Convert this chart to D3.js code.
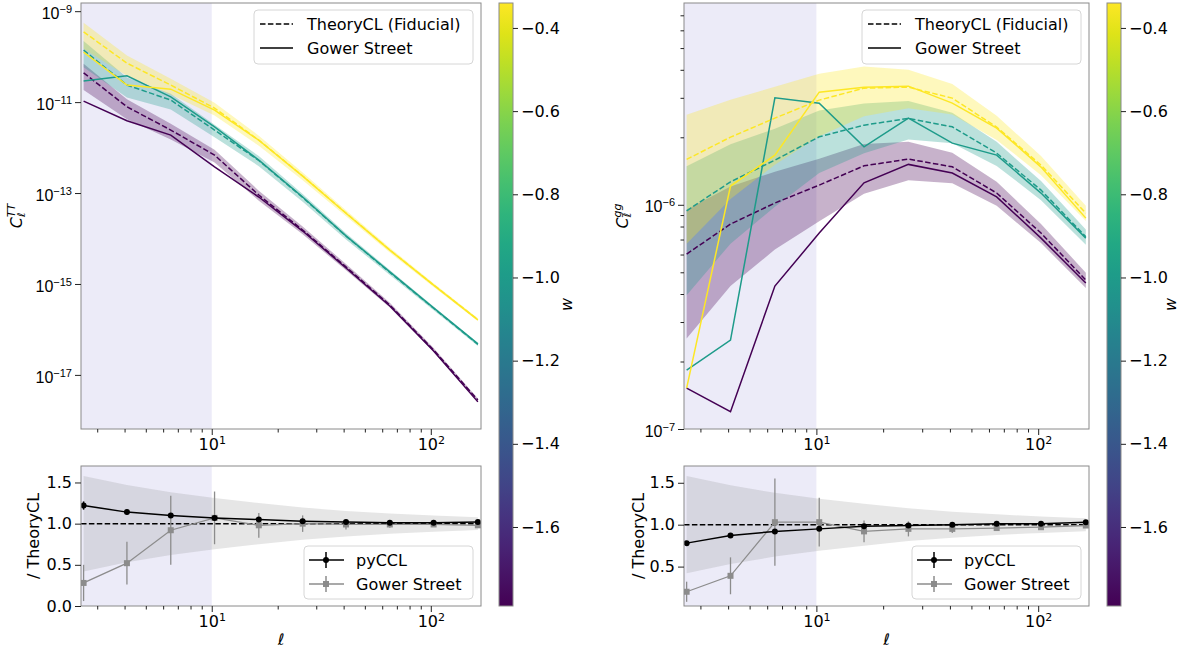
<!DOCTYPE html>
<html><head><meta charset="utf-8">
<script src="https://cdn.jsdelivr.net/npm/d3@7"></script>
<style>body{margin:0;background:#fff}svg{display:block;font-family:"DejaVu Sans",sans-serif}</style>
</head><body><svg id="c" width="1200" height="652"></svg>
<script>
// ---------------- data ----------------
const ell = [2.6, 4.1, 6.5, 10.3, 16.4, 26, 41, 65, 103, 164];
const wValues = [-1.79, -1.0, -0.34];
const wRange = [-1.79, -0.34];
const cbTicks = [-0.4, -0.6, -0.8, -1.0, -1.2, -1.4, -1.6];
const cvSigma = [0.58, 0.47, 0.38, 0.31, 0.25, 0.195, 0.155, 0.123, 0.098, 0.078];

// C_ell^TT
const ttTheoryWm179 = [4.41e-11, 7.89e-12, 2.43e-12, 6.84e-13, 9.04e-14, 1.54e-14, 2.37e-15, 3.45e-16, 3.54e-17, 2.80e-18];
const ttGowerWm179  = [1.05e-11, 3.88e-12, 1.88e-12, 3.78e-13, 8.17e-14, 1.46e-14, 2.25e-15, 3.28e-16, 3.37e-17, 2.55e-18];
const ttTheoryWm100 = [1.39e-10, 2.37e-11, 1.11e-11, 2.43e-12, 5.2e-13, 8.0e-14, 1.13e-14, 1.80e-15, 2.92e-16, 4.70e-17];
const ttGowerWm100  = [2.90e-11, 3.78e-11, 1.31e-11, 2.86e-12, 5.31e-13, 8.17e-14, 1.14e-14, 1.84e-15, 2.97e-16, 4.80e-17];
const ttTheoryWm034 = [3.51e-10, 7.19e-11, 2.37e-11, 7.38e-12, 1.46e-12, 2.37e-13, 3.63e-14, 5.58e-15, 9.50e-16, 1.64e-16];
const ttGowerWm034  = [1.26e-10, 2.37e-11, 1.93e-11, 6.67e-12, 1.45e-12, 2.35e-13, 3.60e-14, 5.55e-15, 9.45e-16, 1.62e-16];

// C_ell^gg
const ggTheoryWm179 = [6.03e-7, 8.20e-7, 1.018e-6, 1.224e-6, 1.492e-6, 1.599e-6, 1.477e-6, 1.128e-6, 7.48e-7, 4.62e-7];
const ggGowerWm179  = [1.523e-7, 1.194e-7, 4.34e-7, 7.48e-7, 1.253e-6, 1.514e-6, 1.385e-6, 1.085e-6, 7.10e-7, 4.48e-7];
const ggTheoryWm100 = [9.40e-7, 1.266e-6, 1.582e-6, 2.01e-6, 2.266e-6, 2.428e-6, 2.227e-6, 1.70e-6, 1.163e-6, 7.20e-7];
const ggGowerWm100  = [1.832e-7, 2.493e-7, 3.0e-6, 2.84e-6, 1.814e-6, 2.435e-6, 1.884e-6, 1.665e-6, 1.128e-6, 7.10e-7];
const ggTheoryWm034 = [1.594e-6, 2.003e-6, 2.435e-6, 2.93e-6, 3.313e-6, 3.347e-6, 2.99e-6, 2.22e-6, 1.503e-6, 9.18e-7];
const ggGowerWm034  = [1.523e-7, 1.212e-6, 1.665e-6, 3.18e-6, 3.347e-6, 3.382e-6, 2.84e-6, 2.197e-6, 1.473e-6, 8.72e-7];

// ratios / TheoryCL
const ttRatioPyccl    = [1.22, 1.14, 1.10, 1.07, 1.05, 1.03, 1.02, 1.01, 1.01, 1.02];
const ttRatioPycclErr = [0.05, 0.03, 0.02, 0.02, 0.015, 0.01, 0.01, 0.01, 0.01, 0.01];
const ttRatioGower    = [0.28, 0.52, 0.92, 1.07, 0.98, 1.00, 0.99, 0.99, 0.99, 0.98];
const ttRatioGowerErr = [0.22, 0.26, 0.42, 0.32, 0.15, 0.10, 0.06, 0.04, 0.03, 0.02];
const ggRatioPyccl    = [0.78, 0.87, 0.92, 0.95, 0.98, 0.99, 1.00, 1.01, 1.01, 1.03];
const ggRatioPycclErr = [0.01, 0.01, 0.01, 0.01, 0.01, 0.01, 0.01, 0.01, 0.01, 0.01];
const ggRatioGower    = [0.20, 0.39, 1.03, 1.03, 0.92, 0.95, 0.95, 0.96, 0.97, 0.99];
const ggRatioGowerErr = [0.12, 0.22, 0.52, 0.29, 0.13, 0.09, 0.05, 0.03, 0.03, 0.02];

const xMajor = [10, 100];
const xMinor = [3,4,5,6,7,8,9,20,30,40,50,60,70,80,90];

// ---------------- drawing ----------------
const svg = d3.select("#c");
const color = d3.scaleSequential(d3.interpolateViridis).domain(wRange);
const SHADE = "#ecebf8", SPINE = "#8a8a8a", TICK = "#222", FS = 16;
const xDomain = [2.53, 169.5];
const defs = svg.append("defs");
let clipId = 0;

function expLabel(sel, expOf) {
  sel.each(function(d) {
    const t = d3.select(this); t.text(null);
    t.append("tspan").text("10");
    t.append("tspan").attr("dy", "-0.55em").attr("font-size", 11).text(expOf(d));
  });
}
function sup(n) { return n < 0 ? "\u2212" + Math.abs(n) : String(n); }

function frame(g, x0, x1, yt, yb) {
  g.append("rect").attr("x", x0).attr("y", yt).attr("width", x1 - x0).attr("height", yb - yt)
    .attr("fill", "none").attr("stroke", SPINE).attr("stroke-width", 1);
}
function clip(x0, x1, yt, yb) {
  const id = "clip" + (clipId++);
  defs.append("clipPath").attr("id", id).append("rect").attr("x", x0).attr("y", yt).attr("width", x1 - x0).attr("height", yb - yt);
  return "url(#" + id + ")";
}
function xAxes(g, x, yb) {
  const a = g.append("g").attr("transform", `translate(0,${yb})`)
    .call(d3.axisBottom(x).tickValues(xMajor).tickSize(6).tickPadding(4).tickFormat(d => d));
  a.select(".domain").remove();
  a.selectAll("line").attr("stroke", TICK);
  a.selectAll("text").attr("font-size", FS).attr("fill", "#000").attr("font-family", "DejaVu Sans");
  expLabel(a.selectAll("text"), d => sup(Math.round(Math.log10(d))));
  const m = g.append("g").attr("transform", `translate(0,${yb})`)
    .call(d3.axisBottom(x).tickValues(xMinor).tickSize(3.5).tickFormat(""));
  m.select(".domain").remove();
  m.selectAll("line").attr("stroke", TICK);
}

function drawTop(cfg) {
  const x = d3.scaleLog().domain(xDomain).range([cfg.x0, cfg.x1]);
  const y = d3.scaleLog().domain(cfg.yDomain).range([cfg.yb, cfg.yt]);
  const g = svg.append("g");
  const cp = clip(cfg.x0, cfg.x1, cfg.yt, cfg.yb);
  const p = g.append("g").attr("clip-path", cp);
  p.append("rect").attr("x", cfg.x0).attr("y", cfg.yt).attr("width", x(10) - cfg.x0).attr("height", cfg.yb - cfg.yt).attr("fill", SHADE);
  cfg.series.forEach(s => {
    const c = color(s.w);
    const area = d3.area().x((d, i) => x(ell[i])).y0((d, i) => y(d * (1 - cvSigma[i]))).y1((d, i) => y(d * (1 + cvSigma[i])));
    p.append("path").attr("d", area(s.theory)).attr("fill", c).attr("fill-opacity", 0.3);
  });
  cfg.series.forEach(s => {
    const c = color(s.w);
    const line = d3.line().x((d, i) => x(ell[i])).y(d => y(d));
    p.append("path").attr("d", line(s.theory)).attr("fill", "none").attr("stroke", c).attr("stroke-width", 1.5).attr("stroke-dasharray", "5.5,2.4");
    p.append("path").attr("d", line(s.gower)).attr("fill", "none").attr("stroke", c).attr("stroke-width", 1.5);
  });
  frame(g, cfg.x0, cfg.x1, cfg.yt, cfg.yb);
  xAxes(g, x, cfg.yb);
  const ya = g.append("g").attr("transform", `translate(${cfg.x0},0)`)
    .call(d3.axisLeft(y).tickValues(cfg.yMajor).tickSize(6).tickPadding(3).tickFormat(d => d));
  ya.select(".domain").remove();
  ya.selectAll("line").attr("stroke", TICK);
  ya.selectAll("text").attr("font-size", FS).attr("fill", "#000").attr("dy", "0.45em");
  expLabel(ya.selectAll("text"), d => sup(Math.round(Math.log10(d))));
  if (cfg.yMinor) {
    const ym = g.append("g").attr("transform", `translate(${cfg.x0},0)`)
      .call(d3.axisLeft(y).tickValues(cfg.yMinor).tickSize(3.5).tickFormat(""));
    ym.select(".domain").remove();
    ym.selectAll("line").attr("stroke", TICK);
  }
  const yl = g.append("text").attr("transform", `translate(${cfg.ylabX},${(cfg.yt + cfg.yb) / 2}) rotate(-90)`)
    .attr("text-anchor", "middle").attr("font-size", FS);
  yl.append("tspan").attr("font-style", "italic").text("C");
  yl.append("tspan").attr("font-style", "italic").attr("font-size", 11).attr("dy", "0.3em").text("\u2113");
  yl.append("tspan").attr("font-style", "italic").attr("font-size", 11).attr("dx", "-0.42em").attr("dy", "-0.95em").text(cfg.sup);
  const lw = 219, lh = 54, lx = cfg.x1 - 8 - lw, ly = cfg.yt + 7;
  const lg = g.append("g");
  lg.append("rect").attr("x", lx).attr("y", ly).attr("width", lw).attr("height", lh).attr("rx", 4)
    .attr("fill", "#fff").attr("fill-opacity", 0.8).attr("stroke", "#d6d6d6");
  [["TheoryCL (Fiducial)", "5.5,2.4"], ["Gower Street", null]].forEach((e, i) => {
    const cy = ly + 14 + i * 24;
    lg.append("line").attr("x1", lx + 6).attr("x2", lx + 39).attr("y1", cy).attr("y2", cy)
      .attr("stroke", "#000").attr("stroke-width", 1.5).attr("stroke-dasharray", e[1]);
    lg.append("text").attr("x", lx + 53).attr("y", cy).attr("dy", "0.35em").attr("font-size", FS).text(e[0]);
  });
}

function drawBottom(cfg) {
  const x = d3.scaleLog().domain(xDomain).range([cfg.x0, cfg.x1]);
  const y = d3.scaleLinear().domain(cfg.yDomain).range([cfg.yb, cfg.yt]);
  const g = svg.append("g");
  const cp = clip(cfg.x0, cfg.x1, cfg.yt, cfg.yb);
  const p = g.append("g").attr("clip-path", cp);
  p.append("rect").attr("x", cfg.x0).attr("y", cfg.yt).attr("width", x(10) - cfg.x0).attr("height", cfg.yb - cfg.yt).attr("fill", SHADE);
  const band = d3.area().x((d, i) => x(ell[i])).y0(d => y(1 - d)).y1(d => y(1 + d));
  p.append("path").attr("d", band(cvSigma)).attr("fill", "#808080").attr("fill-opacity", 0.2);
  p.append("line").attr("x1", cfg.x0).attr("x2", cfg.x1).attr("y1", y(1)).attr("y2", y(1))
    .attr("stroke", "#000").attr("stroke-width", 1.5).attr("stroke-dasharray", "5.5,2.4");
  const line = d3.line().x((d, i) => x(ell[i])).y(d => y(d));
  const GR = "#8c8c8c";
  cfg.gower.forEach((d, i) => p.append("line").attr("x1", x(ell[i])).attr("x2", x(ell[i]))
    .attr("y1", y(d - cfg.gowerErr[i])).attr("y2", y(d + cfg.gowerErr[i])).attr("stroke", GR).attr("stroke-width", 1.3));
  p.append("path").attr("d", line(cfg.gower)).attr("fill", "none").attr("stroke", GR).attr("stroke-width", 1.3);
  cfg.gower.forEach((d, i) => p.append("rect").attr("x", x(ell[i]) - 3).attr("y", y(d) - 3).attr("width", 6).attr("height", 6).attr("fill", GR));
  cfg.pyccl.forEach((d, i) => p.append("line").attr("x1", x(ell[i])).attr("x2", x(ell[i]))
    .attr("y1", y(d - cfg.pycclErr[i])).attr("y2", y(d + cfg.pycclErr[i])).attr("stroke", "#000").attr("stroke-width", 1.5));
  p.append("path").attr("d", line(cfg.pyccl)).attr("fill", "none").attr("stroke", "#000").attr("stroke-width", 1.5);
  cfg.pyccl.forEach((d, i) => p.append("circle").attr("cx", x(ell[i])).attr("cy", y(d)).attr("r", 3).attr("fill", "#000"));

  frame(g, cfg.x0, cfg.x1, cfg.yt, cfg.yb);
  xAxes(g, x, cfg.yb);
  const ya = g.append("g").attr("transform", `translate(${cfg.x0},0)`)
    .call(d3.axisLeft(y).tickValues(cfg.yTicks).tickSize(6).tickPadding(3).tickFormat(d3.format(".1f")));
  ya.select(".domain").remove();
  ya.selectAll("line").attr("stroke", TICK);
  ya.selectAll("text").attr("font-size", FS).attr("fill", "#000").attr("font-family", "DejaVu Sans");
  g.append("text").attr("transform", `translate(${cfg.ylabX},${(cfg.yt + cfg.yb) / 2}) rotate(-90)`)
    .attr("text-anchor", "middle").attr("dy", "0.35em").attr("font-size", FS).text("/ TheoryCL");
  g.append("text").attr("x", (cfg.x0 + cfg.x1) / 2).attr("y", 645).attr("text-anchor", "middle")
    .attr("font-size", FS).attr("font-style", "italic").text("\u2113");
  const lw = 169, lh = 53, lx = cfg.x1 - 8 - lw, ly = cfg.yb - 7 - lh;
  const lg = g.append("g");
  lg.append("rect").attr("x", lx).attr("y", ly).attr("width", lw).attr("height", lh).attr("rx", 4)
    .attr("fill", "#fff").attr("fill-opacity", 0.8).attr("stroke", "#d6d6d6");
  [["pyCCL", "#000", "c"], ["Gower Street", GR, "s"]].forEach((e, i) => {
    const cy = ly + 14 + i * 24, cx = lx + 22;
    lg.append("line").attr("x1", lx + 5).attr("x2", lx + 40).attr("y1", cy).attr("y2", cy).attr("stroke", e[1]).attr("stroke-width", 1.5);
    lg.append("line").attr("x1", cx).attr("x2", cx).attr("y1", cy - 8).attr("y2", cy + 8).attr("stroke", e[1]).attr("stroke-width", 1.5);
    if (e[2] === "c") lg.append("circle").attr("cx", cx).attr("cy", cy).attr("r", 3).attr("fill", e[1]);
    else lg.append("rect").attr("x", cx - 3).attr("y", cy - 3).attr("width", 6).attr("height", 6).attr("fill", e[1]);
    lg.append("text").attr("x", lx + 52).attr("y", cy).attr("dy", "0.35em").attr("font-size", FS).text(e[0]);
  });
}

function drawColorbar(cfg) {
  const id = "grad" + cfg.x0;
  const gr = defs.append("linearGradient").attr("id", id).attr("x1", 0).attr("x2", 0).attr("y1", 1).attr("y2", 0);
  d3.range(0, 1.0001, 0.05).forEach(t => gr.append("stop").attr("offset", t).attr("stop-color", d3.interpolateViridis(t)));
  const y = d3.scaleLinear().domain(wRange).range([cfg.yb, cfg.yt]);
  const g = svg.append("g");
  g.append("rect").attr("x", cfg.x0).attr("y", cfg.yt).attr("width", cfg.x1 - cfg.x0).attr("height", cfg.yb - cfg.yt)
    .attr("fill", `url(#${id})`).attr("stroke", SPINE).attr("stroke-width", 1);
  const a = g.append("g").attr("transform", `translate(${cfg.x1},0)`)
    .call(d3.axisRight(y).tickValues(cbTicks).tickSize(5).tickPadding(3).tickFormat(d => d3.format(".1f")(d).replace("-", "\u2212")));
  a.select(".domain").remove();
  a.selectAll("line").attr("stroke", TICK);
  a.selectAll("text").attr("font-size", FS).attr("fill", "#000").attr("font-family", "DejaVu Sans");
  g.append("text").attr("transform", `translate(${cfg.labX},${(cfg.yt + cfg.yb) / 2}) rotate(-90)`)
    .attr("text-anchor", "middle").attr("dy", "0.35em").attr("font-size", FS).attr("font-style", "italic").text("w");
}

const seriesTT = [
  { w: wValues[0], theory: ttTheoryWm179, gower: ttGowerWm179 },
  { w: wValues[1], theory: ttTheoryWm100, gower: ttGowerWm100 },
  { w: wValues[2], theory: ttTheoryWm034, gower: ttGowerWm034 }];
const seriesGG = [
  { w: wValues[0], theory: ggTheoryWm179, gower: ggGowerWm179 },
  { w: wValues[1], theory: ggTheoryWm100, gower: ggGowerWm100 },
  { w: wValues[2], theory: ggTheoryWm034, gower: ggGowerWm034 }];

drawTop({ x0: 81, x1: 481, yt: 3, yb: 429, yDomain: [Math.pow(10, -18.19), Math.pow(10, -8.82)],
  yMajor: [1e-9, 1e-11, 1e-13, 1e-15, 1e-17], series: seriesTT, ylabX: 22, sup: "TT" });
drawTop({ x0: 684, x1: 1089, yt: 3, yb: 429, yDomain: [1e-7, Math.pow(10, -5.10)],
  yMajor: [1e-6, 1e-7], yMinor: [2e-7,3e-7,4e-7,5e-7,6e-7,7e-7,8e-7,9e-7,2e-6,3e-6,4e-6,5e-6,6e-6,7e-6],
  series: seriesGG, ylabX: 628, sup: "gg" });
drawBottom({ x0: 81, x1: 481, yt: 466, yb: 606, yDomain: [0, 1.70], yTicks: [0, 0.5, 1.0, 1.5],
  pyccl: ttRatioPyccl, pycclErr: ttRatioPycclErr, gower: ttRatioGower, gowerErr: ttRatioGowerErr, ylabX: 33 });
drawBottom({ x0: 684, x1: 1089, yt: 466, yb: 606, yDomain: [0.03, 1.70], yTicks: [0.5, 1.0, 1.5],
  pyccl: ggRatioPyccl, pycclErr: ggRatioPycclErr, gower: ggRatioGower, gowerErr: ggRatioGowerErr, ylabX: 638 });
drawColorbar({ x0: 499, x1: 513, yt: 3, yb: 606, labX: 566 });
drawColorbar({ x0: 1107, x1: 1121, yt: 3, yb: 606, labX: 1170 });
</script></body></html>
